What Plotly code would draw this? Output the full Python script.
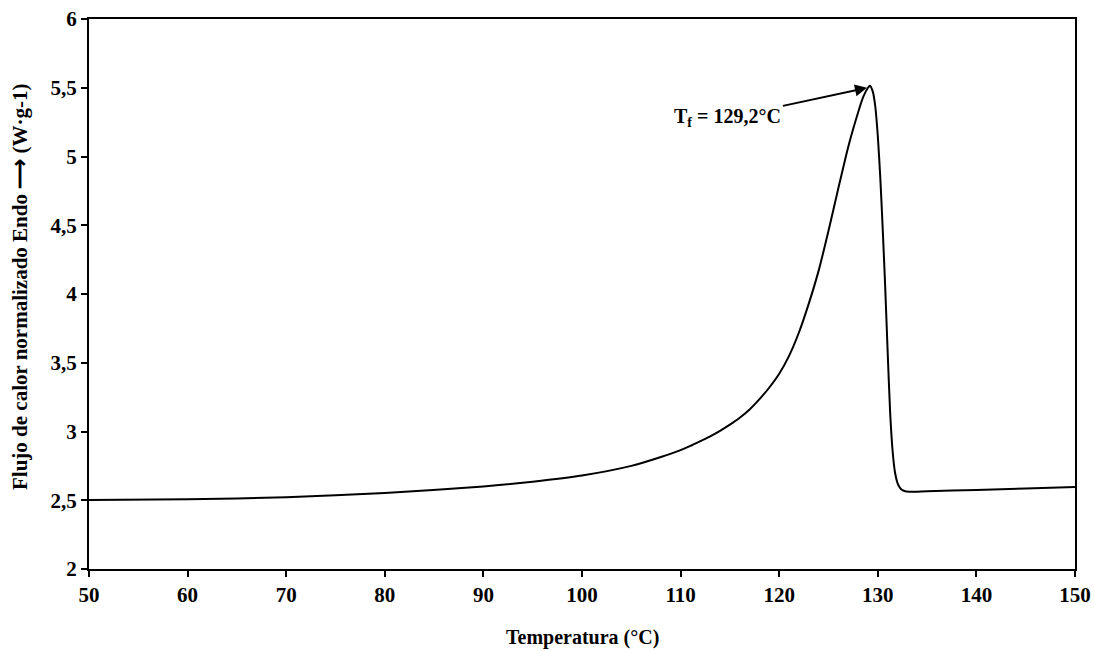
import plotly.graph_objects as go

temperature = [50, 60, 70, 80, 90, 95, 100, 105, 108, 110, 111, 112, 113, 114, 115, 116, 117,
               118, 119, 120, 121, 122, 123, 124, 125, 126, 127, 128, 128.5, 129, 129.2, 129.5,
               129.75, 130.0, 130.25, 130.5, 130.75, 131.0, 131.25, 131.5, 131.75, 132.0, 132.25,
               132.5, 132.9, 135, 140, 145, 150]
heat_flow = [2.502, 2.507, 2.522, 2.553, 2.600, 2.635, 2.680, 2.750, 2.815, 2.865, 2.895, 2.93,
             2.965, 3.005, 3.05, 3.10, 3.16, 3.235, 3.32, 3.42, 3.55, 3.72, 3.93, 4.17, 4.46,
             4.77, 5.07, 5.32, 5.43, 5.50, 5.515, 5.47, 5.36, 5.15, 4.85, 4.47, 4.05, 3.58,
             3.14, 2.86, 2.70, 2.625, 2.59, 2.573, 2.563, 2.566, 2.575, 2.585, 2.597]

x_ticks = [50, 60, 70, 80, 90, 100, 110, 120, 130, 140, 150]
y_ticks = [2, 2.5, 3, 3.5, 4, 4.5, 5, 5.5, 6]
y_tick_labels = ["2", "2,5", "3", "3,5", "4", "4,5", "5", "5,5", "6"]

arrow_T = 128.9
arrow_v = 5.50

font_family = "Liberation Serif"

fig = go.Figure()
fig.add_trace(go.Scatter(x=temperature, y=heat_flow, mode="lines",
                         line=dict(color="black", width=2, shape="spline", smoothing=0.6),
                         showlegend=False, hoverinfo="skip"))

axis_common = dict(showline=True, linecolor="black", linewidth=2, mirror=True,
                   ticks="outside", ticklen=6, tickwidth=2, tickcolor="black",
                   showgrid=False, zeroline=False, automargin=False,
                   tickfont=dict(family=font_family, size=21, color="black"))

fig.update_xaxes(range=[50, 150], tickvals=x_ticks, ticktext=[f"<b>{t}</b>" for t in x_ticks],
                 **axis_common)
fig.update_yaxes(range=[2, 6], tickvals=y_ticks, ticktext=[f"<b>{t}</b>" for t in y_tick_labels],
                 **axis_common)

fig.add_annotation(x=arrow_T, y=arrow_v, xref="x", yref="y",
                   text="<b>T<sub>f</sub> = 129,2°C</b>", showarrow=True,
                   ax=-139, ay=30, arrowhead=2, arrowsize=1.2, arrowwidth=2, arrowcolor="black",
                   font=dict(family=font_family, size=20, color="black"))

fig.add_annotation(x=0.5, y=0, xref="paper", yref="paper", yshift=-68,
                   text="<b>Temperatura (°C)</b>", showarrow=False, yanchor="middle",
                   font=dict(family=font_family, size=20, color="black"))
fig.add_annotation(x=0, y=0.5, xref="paper", yref="paper", xshift=-69, yshift=7,
                   text="<b>Flujo de calor normalizado Endo ⟶ (W·g-1)</b>", showarrow=False,
                   textangle=-90, xanchor="center", yanchor="middle",
                   font=dict(family=font_family, size=21, color="black"))

fig.update_layout(width=1094, height=651, margin=dict(l=89, r=19, t=19, b=82),
                  plot_bgcolor="white", paper_bgcolor="white")

fig.write_html("out.html")
